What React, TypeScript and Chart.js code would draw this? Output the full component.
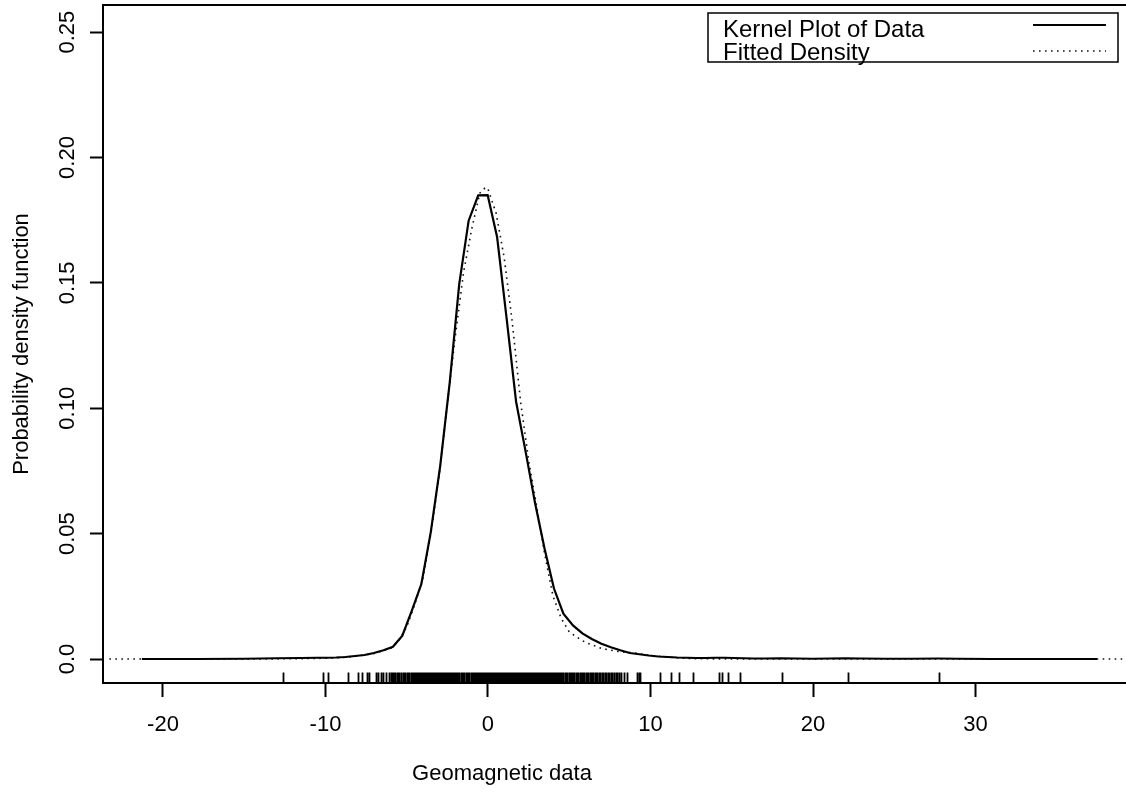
import React, { useEffect, useRef } from 'react';
import { Chart, registerables } from 'chart.js';

Chart.register(...registerables);

// ---- data ----
const kdeX = [
  -21.3, -18.0, -15.0, -13.0, -11.5, -10.5, -9.93, -9.35, -8.77, -8.18, -7.6, -7.02, -6.43, -5.85, -5.27,
  -4.68, -4.1, -3.52, -2.94, -2.35, -1.77, -1.19, -0.6, -0.02, 0.56, 1.15, 1.73, 2.31, 2.9, 3.48, 4.06,
  4.64, 5.23, 5.81, 6.39, 6.98, 7.56, 8.14, 8.73, 9.31, 9.89, 10.48, 11.06, 11.64, 12.23, 12.81, 13.39,
  13.98, 14.56, 15.14, 15.73, 16.31, 17.0, 18.0, 19.0, 20.0, 21.0, 22.0, 23.0, 24.5, 26.0, 27.7, 29.0,
  31.0, 34.0, 37.48,
];
const kdeY = [
  0.0, 0.0, 0.0001, 0.0003, 0.0004, 0.0005, 0.0005, 0.0006, 0.0008, 0.0012, 0.0016, 0.0024, 0.0035, 0.0049, 0.0093,
  0.0194, 0.0299, 0.0506, 0.077, 0.1105, 0.1495, 0.1748, 0.1849, 0.185, 0.1683, 0.1356, 0.1026, 0.0829, 0.0621, 0.0441, 0.0281,
  0.0181, 0.0134, 0.0102, 0.008, 0.0061, 0.0047, 0.0035, 0.0024, 0.0019, 0.0014, 0.001, 0.0008, 0.0006, 0.0005, 0.0004, 0.0004,
  0.0005, 0.0005, 0.0004, 0.0003, 0.0002, 0.0002, 0.0003, 0.0002, 0.0001, 0.0002, 0.0003, 0.0002, 0.0001, 0.0001, 0.0002, 0.0001,
  0.0, 0.0, 0.0,
];

const fitX = [
  -23.3, -15.0, -12.0, -10.0, -9.0, -8.0, -7.0, -6.5, -6.0, -5.5, -5.0, -4.5, -4.0, -3.5, -3.0, -2.5, -2.0,
  -1.5, -1.0, -0.5, -0.15, 0.0, 0.5, 1.0, 1.5, 2.0, 2.5, 3.0, 3.5, 4.0, 4.5, 5.0, 5.5, 6.0, 7.0, 8.0, 9.0,
  10.0, 11.0, 12.0, 13.0, 15.0, 39.9,
];
const fitY = [
  0.0, 0.0, 0.0001, 0.0003, 0.0006, 0.0012, 0.0022, 0.0032, 0.0042, 0.0072, 0.0128, 0.0219, 0.0323, 0.0506, 0.0734, 0.1021, 0.1292,
  0.1543, 0.1715, 0.1858, 0.1881, 0.1874, 0.1778, 0.1599, 0.134, 0.1029, 0.0793, 0.0606, 0.0415, 0.0251, 0.0163, 0.0108, 0.0086, 0.0066, 0.0042, 0.003, 0.0024,
  0.0014, 0.0008, 0.0003, 0.0001, 0.0, 0.0,
];

const rugValues = [
  -12.63, -10.13, -9.87, -8.6, -7.98, -7.74, -7.47, -7.3, -6.89, -6.75, -6.6, -6.44, -6.28, -6.11, -5.99,
  -5.88, -5.82, -5.76, -5.7, -5.58, -5.51, -5.45, -5.33, -5.26, -5.2, -5.14, -5.08, -5.01, -4.95, -4.89,
  -4.83, -4.76, -4.7, -4.64, -4.58, -4.52,
  -4.49, -4.43, -4.37, -4.3, -4.24, -4.18, -4.12, -4.05, -3.99, -3.93, -3.87, -3.81, -3.74, -3.68, -3.62, -3.56,
  -3.5, -3.43, -3.37, -3.31, -3.25, -3.18, -3.12, -3.06, -3.0, -2.94, -2.87, -2.81, -2.75, -2.69, -2.63, -2.56,
  -2.5, -2.44, -2.38, -2.32, -2.25, -2.19, -2.13, -2.07, -2.0, -1.94, -1.88, -1.82, -1.76, -1.69, -1.63, -1.57,
  -1.51, -1.45, -1.38, -1.32, -1.26, -1.2, -1.14, -1.07, -1.01, -0.95, -0.89, -0.82, -0.76, -0.7, -0.64, -0.58,
  -0.51, -0.45, -0.39, -0.33, -0.27, -0.2, -0.14, -0.08, -0.02, 0.05, 0.11, 0.17, 0.23, 0.29, 0.36, 0.42,
  0.48, 0.54, 0.6, 0.67, 0.73, 0.79, 0.85, 0.92, 0.98, 1.04, 1.1, 1.16, 1.23, 1.29, 1.35, 1.41,
  1.48, 1.54, 1.6, 1.66, 1.72, 1.79, 1.85, 1.91, 1.97, 2.03, 2.1, 2.16, 2.22, 2.28, 2.35, 2.41,
  2.47, 2.53, 2.59, 2.66, 2.72, 2.78, 2.84, 2.9, 2.97, 3.03, 3.09, 3.15, 3.22, 3.28, 3.34, 3.4,
  3.46, 3.53, 3.59, 3.65, 3.71, 3.78, 3.84, 3.9, 3.96,
  4.02, 4.08, 4.14, 4.21, 4.27, 4.33, 4.39, 4.46, 4.52, 4.58, 4.64, 4.71, 4.77, 4.83, 4.89, 4.96, 5.02,
  5.08, 5.14, 5.21, 5.27, 5.39, 5.46, 5.52, 5.64, 5.71, 5.77, 5.83,
  5.93, 6.01, 6.08, 6.17, 6.25, 6.31, 6.4, 6.49, 6.58, 6.64, 6.73, 6.82, 6.9, 7.0, 7.08, 7.17, 7.27, 7.36,
  7.45, 7.55, 7.63, 7.74, 7.85, 7.95, 8.06, 8.18, 8.34, 8.55,
  9.2, 9.28, 9.35, 10.56, 11.28, 11.78, 12.64, 14.2, 14.4, 14.77, 15.53, 18.07, 22.14, 27.75,
];

const xTicks = [-20, -10, 0, 10, 20, 30];
const xTickLabels = ['-20', '-10', '0', '10', '20', '30'];
const yTicks = [0, 0.05, 0.1, 0.15, 0.2, 0.25];
const yTickLabels = ['0.0', '0.05', '0.10', '0.15', '0.20', '0.25'];
const seriesLabels = ['Kernel Plot of Data', 'Fitted Density'];
const xTitle = 'Geomagnetic data';
const yTitle = 'Probability density function';

const FONT = '"Liberation Sans", Arial, Helvetica, sans-serif';
const TEXT_SIZE = 22;
const LEGEND_SIZE = 24;

const boxPlugin = {
  id: 'boxTop',
  afterDraw(chart: any) {
    const { ctx, chartArea } = chart;
    ctx.save();
    ctx.strokeStyle = '#000';
    ctx.lineWidth = 2;
    ctx.beginPath();
    ctx.moveTo(chartArea.left - 1, chartArea.top);
    ctx.lineTo(chartArea.right + 2, chartArea.top);
    ctx.stroke();
    ctx.restore();
  },
};

const rugPlugin = {
  id: 'rug',
  afterDatasetsDraw(chart: any) {
    const { ctx, chartArea, scales } = chart;
    const xs = scales.x;
    ctx.save();
    ctx.strokeStyle = '#000';
    ctx.lineWidth = 1.8;
    ctx.beginPath();
    for (const v of rugValues) {
      const px = Math.round(xs.getPixelForValue(v)) + 0.5;
      ctx.moveTo(px, chartArea.bottom);
      ctx.lineTo(px, chartArea.bottom - 10.5);
    }
    ctx.stroke();
    ctx.restore();
  },
};

const legendPlugin = {
  id: 'rLegend',
  afterDraw(chart: any) {
    const { ctx, chartArea } = chart;
    const right = chartArea.right - 8;
    const left = right - 410;
    const top = chartArea.top + 8;
    const bottom = top + 49;
    ctx.save();
    ctx.strokeStyle = '#000';
    ctx.lineWidth = 1.5;
    ctx.strokeRect(left, top, right - left, bottom - top);
    ctx.fillStyle = '#000';
    ctx.font = `${LEGEND_SIZE}px ${FONT}`;
    ctx.textAlign = 'left';
    ctx.textBaseline = 'alphabetic';
    const ds = chart.data.datasets;
    const baselines = [top + 24, top + 47];
    const lineYs = [top + 12, top + 38];
    ds.forEach((d: any, i: number) => {
      ctx.fillText(d.label, left + 15, baselines[i]);
      ctx.save();
      ctx.strokeStyle = d.borderColor;
      ctx.lineWidth = d.borderWidth;
      ctx.setLineDash(d.borderDash || []);
      ctx.beginPath();
      ctx.moveTo(right - 85, lineYs[i]);
      ctx.lineTo(right - 12, lineYs[i]);
      ctx.stroke();
      ctx.restore();
    });
    ctx.restore();
  },
};

const xTitlePlugin = {
  id: 'xTitle',
  afterDraw(chart: any) {
    const { ctx } = chart;
    ctx.save();
    ctx.fillStyle = '#000';
    ctx.font = `${TEXT_SIZE}px ${FONT}`;
    ctx.textAlign = 'center';
    ctx.textBaseline = 'middle';
    ctx.fillText(xTitle, 502, 774);
    ctx.restore();
  },
};

export default function App() {
  const canvasRef = useRef<HTMLCanvasElement | null>(null);

  useEffect(() => {
    if (!canvasRef.current) return;
    Chart.defaults.font.family = FONT;
    Chart.defaults.color = '#000';
    const chart = new Chart(canvasRef.current, {
      type: 'line',
      data: {
        datasets: [
          {
            label: seriesLabels[0],
            data: kdeX.map((x, i) => ({ x, y: kdeY[i] })),
            borderColor: '#000',
            borderWidth: 2.2,
            pointRadius: 0,
            fill: false,
            tension: 0,
          },
          {
            label: seriesLabels[1],
            data: fitX.map((x, i) => ({ x, y: fitY[i] })),
            borderColor: '#111',
            borderWidth: 1.6,
            borderDash: [1.6, 4.4],
            pointRadius: 0,
            fill: false,
            tension: 0,
          },
        ],
      },
      options: {
        animation: false,
        responsive: false,
        events: [],
        layout: { padding: { top: 5, left: 0, right: 0, bottom: 0 } },
        plugins: {
          legend: { display: false },
          tooltip: { enabled: false },
          title: { display: false },
        },
        scales: {
          x: {
            type: 'linear',
            min: -23.69,
            max: 39.26,
            afterBuildTicks: (s: any) => {
              s.ticks = xTicks.map((v) => ({ value: v }));
            },
            afterFit: (s: any) => {
              s.height = 111;
              s.paddingLeft = 0;
              s.paddingRight = 0;
            },
            grid: {
              display: true,
              drawOnChartArea: false,
              drawTicks: true,
              tickLength: 14,
              tickWidth: 2,
              tickColor: '#000',
            },
            border: { display: true, color: '#000', width: 2 },
            ticks: {
              color: '#000',
              font: { size: TEXT_SIZE, family: FONT },
              padding: 15,
              maxRotation: 0,
              minRotation: 0,
              autoSkip: false,
              callback: (v: any) => xTickLabels[xTicks.indexOf(v)],
            },
          },
          y: {
            type: 'linear',
            min: -0.00957,
            max: 0.2608,
            afterBuildTicks: (s: any) => {
              s.ticks = yTicks.map((v) => ({ value: v }));
            },
            afterFit: (s: any) => {
              s.width = 103;
              s.paddingTop = 0;
              s.paddingBottom = 0;
            },
            grid: {
              display: true,
              drawOnChartArea: false,
              drawTicks: true,
              tickLength: 13,
              tickWidth: 2,
              tickColor: '#000',
            },
            border: { display: true, color: '#000', width: 2 },
            ticks: {
              color: '#000',
              font: { size: TEXT_SIZE, family: FONT },
              padding: 1,
              minRotation: 90,
              maxRotation: 90,
              crossAlign: 'center',
              autoSkip: false,
              callback: (v: any) => yTickLabels[yTicks.indexOf(v)],
            },
            title: {
              display: true,
              text: yTitle,
              color: '#000',
              font: { size: TEXT_SIZE, family: FONT },
              padding: { top: 9, bottom: 0 },
            },
          },
        },
      } as any,
      plugins: [boxPlugin, rugPlugin, legendPlugin, xTitlePlugin],
    });
    return () => chart.destroy();
  }, []);

  return (
    <div style={{ position: 'fixed', left: 0, top: 0, width: 1126, height: 794, background: '#fff' }}>
      <canvas ref={canvasRef} width={1126} height={794} style={{ display: 'block' }} />
    </div>
  );
}
